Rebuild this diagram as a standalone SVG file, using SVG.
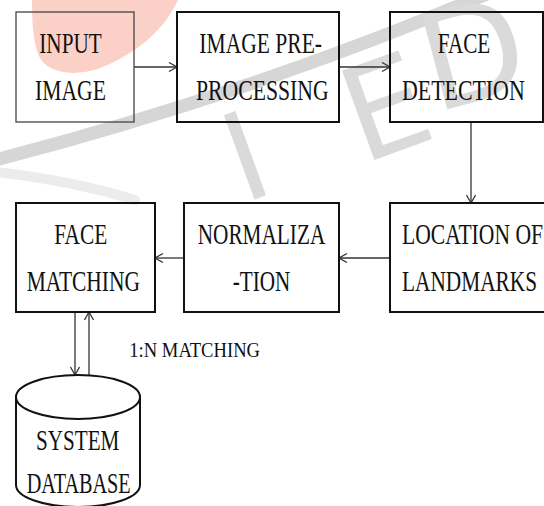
<svg xmlns="http://www.w3.org/2000/svg" width="544" height="506" viewBox="0 0 544 506">
<style>
.box{fill:none;stroke:#111;stroke-width:2}
.thin{stroke:#444;stroke-width:1.3}
.lbl{font-family:'Liberation Serif','DejaVu Serif','Times New Roman',serif;font-size:30px;fill:#111}
.small{font-size:20px}
.conn{stroke:#333;stroke-width:1.3;fill:none}
.wm{font-family:'DejaVu Sans',sans-serif;fill:#dadada;text-anchor:middle}
</style>
<defs>
<marker id="arr" markerUnits="userSpaceOnUse" markerWidth="12" markerHeight="12" refX="9" refY="5" orient="auto">
<path d="M1,0.5 L9,5 L1,9.5" fill="none" stroke="#333" stroke-width="1.3"/>
</marker>
</defs>
<rect width="544" height="506" fill="#fff"/>
<g id="watermark">
<path d="M32,0 L178,0 C165,28 140,52 100,68 C72,78 46,72 39,56 C33,42 32,22 32,0 Z" fill="#fbd0c6"/>
<path d="M-5,160 Q120,128 250,84 T520,-20" fill="none" stroke="#d6d6d6" stroke-width="13" stroke-linecap="round"/>
<path d="M-5,172 Q70,180 135,200" fill="none" stroke="#ececec" stroke-width="10" stroke-linecap="round"/>
<text class="wm" font-size="123" transform="translate(245,155) rotate(-20)" y="45">I</text>
<text class="wm" font-size="130" transform="translate(385,106) rotate(-20)" y="47">E</text>
<text class="wm" font-size="135" transform="translate(472,52) rotate(-15)" y="49">D</text>
</g>
<g id="connectors">
<line class="conn" x1="134" y1="67" x2="177" y2="67" marker-end="url(#arr)"/>
<line class="conn" x1="339" y1="67" x2="390" y2="67" marker-end="url(#arr)"/>
<line class="conn" x1="471" y1="122" x2="471" y2="203" marker-end="url(#arr)"/>
<line class="conn" x1="390" y1="258" x2="339" y2="258" marker-end="url(#arr)"/>
<line class="conn" x1="184" y1="258" x2="155" y2="258" marker-end="url(#arr)"/>
<line class="conn" x1="75" y1="312" x2="75" y2="375" marker-end="url(#arr)"/>
<line class="conn" x1="89" y1="375" x2="89" y2="312" marker-end="url(#arr)"/>
<text class="lbl small" x="129.3" y="356.7" textLength="130.7" lengthAdjust="spacingAndGlyphs">1:N MATCHING</text>
</g>
<g id="input-image">
<rect class="box thin" x="16" y="12" width="118" height="110"/>
<text class="lbl" x="39.3" y="53.3" textLength="62.4" lengthAdjust="spacingAndGlyphs">INPUT</text>
<text class="lbl" x="35" y="100" textLength="71" lengthAdjust="spacingAndGlyphs">IMAGE</text>
</g>
<g id="preprocessing">
<rect class="box" x="177" y="12" width="162" height="110"/>
<text class="lbl" x="199.3" y="53.3" textLength="122.7" lengthAdjust="spacingAndGlyphs">IMAGE PRE-</text>
<text class="lbl" x="196" y="100" textLength="132.7" lengthAdjust="spacingAndGlyphs">PROCESSING</text>
</g>
<g id="face-detection">
<rect class="box" x="390" y="12" width="153" height="110"/>
<text class="lbl" x="437.7" y="53.3" textLength="52.6" lengthAdjust="spacingAndGlyphs">FACE</text>
<text class="lbl" x="402" y="100" textLength="122.7" lengthAdjust="spacingAndGlyphs">DETECTION</text>
</g>
<g id="face-matching">
<rect class="box" x="16" y="203" width="139" height="109"/>
<text class="lbl" x="54.3" y="244" textLength="53" lengthAdjust="spacingAndGlyphs">FACE</text>
<text class="lbl" x="26.7" y="290.7" textLength="113.3" lengthAdjust="spacingAndGlyphs">MATCHING</text>
</g>
<g id="normalization">
<rect class="box" x="184" y="203" width="155" height="109"/>
<text class="lbl" x="197.7" y="244" textLength="127.6" lengthAdjust="spacingAndGlyphs">NORMALIZA</text>
<text class="lbl" x="232.7" y="290.7" textLength="57.6" lengthAdjust="spacingAndGlyphs">-TION</text>
</g>
<g id="landmarks">
<rect class="box" x="390" y="203" width="158" height="109"/>
<text class="lbl" x="402" y="244" textLength="141" lengthAdjust="spacingAndGlyphs">LOCATION OF</text>
<text class="lbl" x="402" y="290.7" textLength="135" lengthAdjust="spacingAndGlyphs">LANDMARKS</text>
</g>
<g id="system-database">
<path d="M16,397 L16,485 A62,22 0 0 0 140,485 L140,397" fill="#fff" stroke="#111" stroke-width="2"/>
<ellipse cx="78" cy="397" rx="62" ry="22" fill="#fff" stroke="#111" stroke-width="2"/>
<text class="lbl" x="36" y="450" textLength="83.3" lengthAdjust="spacingAndGlyphs">SYSTEM</text>
<text class="lbl" x="26.7" y="493.3" textLength="104" lengthAdjust="spacingAndGlyphs">DATABASE</text>
</g>
</svg>
